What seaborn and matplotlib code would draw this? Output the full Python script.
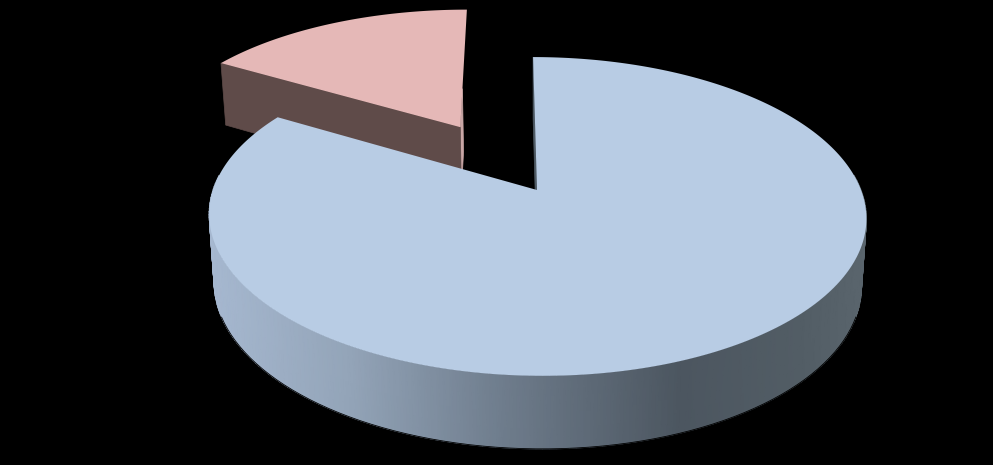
import numpy as np
import seaborn as sns
import matplotlib.pyplot as plt

slices = ["main", "other"]
shares = [83.5, 16.5]
top_colors = ["#b8cce4", "#e5b8b7"]
explode = [0.0, 0.5]

# picture geometry, 3d pie squashed by hand
cx, cy = 537, 190
A, B, k, shear = 324, 155, 0.166, 4.6
D, k2, m = 66.9, 0.084, 0.015


def project(u, v, z=0.0):
    w = 1 + k * v
    s = 1 - m * z
    x = cx + (A * u - shear * v) / w * s
    y = cy - B * v / w + z * D / (1 + k2 * v)
    return x, y


def wedge(a0, a1, off, r=1.0):
    # angles clockwise from 12 o'clock, in degrees
    t = np.radians(np.linspace(a0, a1, 300))
    mid = np.radians((a0 + a1) / 2)
    du, dv = off * np.sin(mid), off * np.cos(mid)
    u = np.concatenate([[du], du + r * np.sin(t)])
    v = np.concatenate([[dv], dv + r * np.cos(t)])
    return u, v, t, du, dv


def radial_wall(ax, du, dv, ang, color, reach=1.0):
    a = np.radians(ang)
    us = np.array([du, du + reach * np.sin(a), du + reach * np.sin(a), du])
    vs = np.array([dv, dv + reach * np.cos(a), dv + reach * np.cos(a), dv])
    zs = np.array([0, 0, 1, 1])
    x, y = project(us, vs, zs)
    ax.fill(x, y, color=color, lw=0.5)


sns.set_style("white")
fig, ax = plt.subplots(figsize=(9.93, 4.65), dpi=100, facecolor="black")
ax.set_position([0, 0, 1, 1])
ax.set_facecolor("black")
ax.set_xlim(0, 993)
ax.set_ylim(465, 0)
ax.axis("off")

stops = [210, 350, 500, 680, 800, 865]
stop_colors = ["#a6b8d0", "#93a4b8", "#6f7d8d", "#4c5660", "#525d65", "#5a656d"]
shade = sns.blend_palette(stop_colors, as_cmap=True)

ends = 360 * np.cumsum(shares) / np.sum(shares)
main_end = ends[0]

# exploded small slice goes first, it sits behind
u, v, t, du, dv = wedge(main_end, 360, explode[1], r=1.008)
radial_wall(ax, du, dv, 360, "#c9a6a5", reach=0.3)
radial_wall(ax, du, dv, main_end, "#5f4b49", reach=1.008)
ax.fill(*project(u, v), color=top_colors[1], lw=0)

# outer wall of the big slice, smooth shading along x
u, v, t, du, dv = wedge(0, main_end, explode[0])
front = t[(np.cos(t) < 0.1)]
fu, fv = np.sin(front), np.cos(front)
x_top, y_top = project(fu, fv, 0.0)
x_bot, y_bot = project(fu, fv, 1.0)
X = np.vstack([x_top, x_bot])
Y = np.vstack([y_top, y_bot])
C = np.interp(X, stops, np.linspace(0, 1, len(stops)))
ax.pcolormesh(X, Y, C, cmap=shade, vmin=0, vmax=1, shading="gouraud", zorder=1)
rim = fv < -0.35
ax.plot(x_bot[rim], y_bot[rim], color="black", lw=0.6, zorder=1)

radial_wall(ax, du, dv, 0, "#4f5b65")
ax.fill(*project(u, v), color=top_colors[0], lw=0, zorder=1)

fig.savefig("out.png", dpi=100, facecolor="black")
